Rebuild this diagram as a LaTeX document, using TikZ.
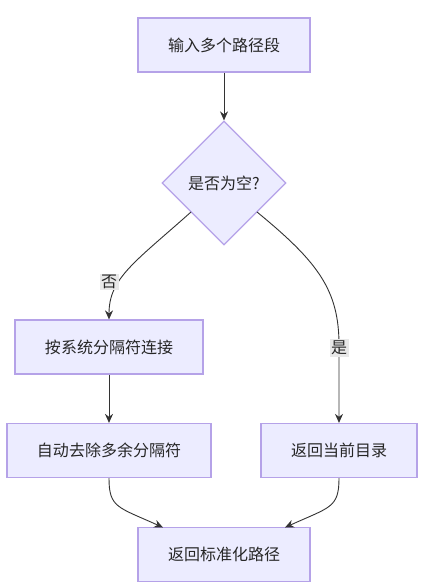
\documentclass[tikz,border=0pt]{standalone}
\usepackage{fontspec}
\setmainfont{Noto Sans CJK SC}
\usetikzlibrary{shapes.geometric,arrows.meta}
\definecolor{nodefill}{HTML}{ECECFF}
\definecolor{nodeborder}{HTML}{B5A2E8}
\definecolor{linec}{HTML}{333333}
\definecolor{labelbg}{HTML}{E8E8E8}
\begin{document}
\begin{tikzpicture}[x=1bp,y=-1bp,
  box/.style={draw=nodeborder,fill=nodefill,line width=1.2bp,inner sep=0pt,font=\fontsize{16bp}{19bp}\selectfont,text=black!85},
  decision/.style={diamond,draw=nodeborder,fill=nodefill,line width=1.2bp,inner sep=0pt,minimum width=124bp,minimum height=124bp,font=\fontsize{16bp}{19bp}\selectfont,text=black!85},
  edge/.style={draw=linec,line width=0.9bp,-{Stealth[length=9bp,width=8bp]}},
  elabel/.style={fill=labelbg,inner sep=1.5bp,font=\fontsize{16bp}{19bp}\selectfont,text=black!85}]
\useasboundingbox (0,0) rectangle (439,587);
\node[box,minimum width=172bp,minimum height=54bp] (a) at (224,45) {输入多个路径段};
\node[decision] (b) at (224,183) {是否为空?};
\node[box,minimum width=188bp,minimum height=54bp] (c) at (109,347) {按系统分隔符连接};
\node[box,minimum width=204bp,minimum height=54bp] (d) at (109,450.5) {自动去除多余分隔符};
\node[box,minimum width=156bp,minimum height=54bp] (e) at (339,450.5) {返回当前目录};
\node[box,minimum width=172bp,minimum height=54bp] (f) at (224,554.5) {返回标准化路径};
\coordinate (bl) at (191,212);
\coordinate (br) at (257,212);
\draw[edge] (a) -- (b);
\draw[edge] (bl) .. controls (135,262) and (109,278) .. (c.north);
\draw[edge] (br) .. controls (318,262) and (339,290) .. (339,345) -- (e.north);
\draw[edge] (c) -- (d);
\draw[edge] (d.south) .. controls (109,508) and (118,507) .. (163,527.5);
\draw[edge] (e.south) .. controls (339,508) and (330,507) .. (285,527.5);
\node[elabel] (l1) at (109,282) {否};
\node[elabel] (l2) at (339,348) {是};
\end{tikzpicture}
\end{document}
